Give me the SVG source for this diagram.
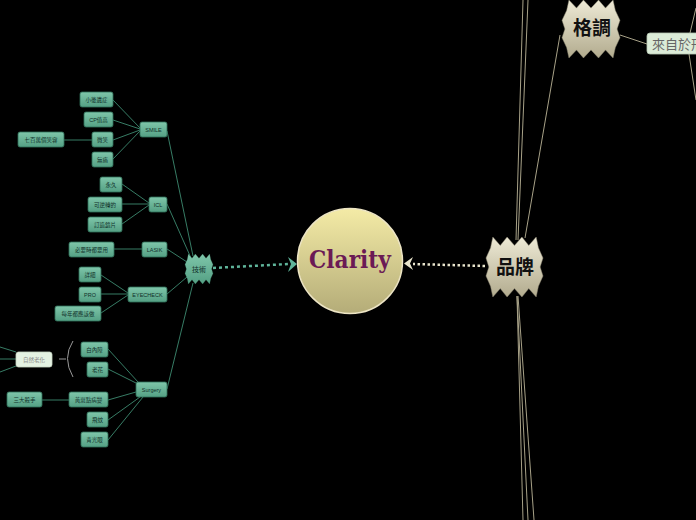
<svg xmlns="http://www.w3.org/2000/svg" width="696" height="520" viewBox="0 0 696 520">
<defs>
<linearGradient id="gt" x1="0" y1="0" x2="0" y2="1"><stop offset="0" stop-color="#7fc6aa"/><stop offset="1" stop-color="#54a084"/></linearGradient>
<linearGradient id="gb" x1="0" y1="0" x2="0" y2="1"><stop offset="0" stop-color="#eeead6"/><stop offset="1" stop-color="#b2ab8e"/></linearGradient>
<linearGradient id="gc" x1="0" y1="0" x2="0" y2="1"><stop offset="0" stop-color="#f4eba6"/><stop offset="1" stop-color="#b4ac78"/></linearGradient>
<path id="burst" d="M8,18 L12,0 L25,14 L37,0 L50,14 L63,0 L75,14 L88,0 L92,18 L100,35 L95,50 L100,65 L92,82 L88,100 L75,86 L63,100 L50,86 L37,100 L25,86 L12,100 L8,82 L0,65 L5,50 L0,35 Z"/>
<style>
.n rect{fill:url(#gt);stroke:#2f6e58;stroke-width:0.8}
.t{font-family:"Liberation Sans","Noto Sans CJK TC",sans-serif;font-size:5.5px;fill:#10302a;text-anchor:middle}
.c line,.c path{stroke:#3d8a70;stroke-width:0.9;fill:none}
.b line{stroke:#a8a288;stroke-width:1;fill:none}
.bt{font-family:"Noto Sans CJK TC","Liberation Sans",sans-serif;font-weight:bold;font-size:19px;fill:#111;text-anchor:middle}
</style>
</defs>
<rect width="696" height="520" fill="#000"/>
<g id="connectors">
<g class="c">
<line x1="140" y1="128" x2="113" y2="100"/>
<line x1="140" y1="129" x2="113" y2="120"/>
<line x1="140" y1="130" x2="113" y2="140"/>
<line x1="140" y1="131" x2="113" y2="159"/>
<line x1="92" y1="140" x2="64" y2="140"/>
<line x1="149" y1="203" x2="122" y2="184"/>
<line x1="149" y1="204" x2="122" y2="204"/>
<line x1="149" y1="205" x2="122" y2="224"/>
<line x1="142" y1="249" x2="114" y2="249"/>
<line x1="128" y1="293" x2="101" y2="275"/>
<line x1="128" y1="294" x2="101" y2="294"/>
<line x1="128" y1="295" x2="101" y2="313"/>
<line x1="138" y1="382" x2="108" y2="349"/>
<line x1="138" y1="384" x2="108" y2="369"/>
<line x1="136" y1="392" x2="108" y2="400"/>
<line x1="140" y1="397" x2="108" y2="420"/>
<line x1="143" y1="397" x2="108" y2="440"/>
<line x1="69" y1="400" x2="42" y2="400"/>
<line x1="167" y1="131" x2="193" y2="256"/>
<line x1="167" y1="204" x2="191" y2="258"/>
<line x1="167" y1="249" x2="187" y2="262"/>
<line x1="167" y1="294" x2="187" y2="277"/>
<line x1="167" y1="389" x2="193" y2="283"/>
<line x1="16" y1="352" x2="0" y2="347"/>
<line x1="16" y1="359" x2="0" y2="359"/>
<line x1="16" y1="366" x2="0" y2="372"/>
</g>
<path d="M73,341 Q62,358 73,377" stroke="#9a9a9a" stroke-width="1" fill="none"/>
<line x1="59" y1="359" x2="66" y2="359" stroke="#9a9a9a" stroke-width="1"/>
<g class="b">
<line x1="516" y1="240" x2="523" y2="0"/>
<line x1="518" y1="240" x2="528" y2="0"/>
<line x1="525" y1="238" x2="560" y2="35"/>
<line x1="517" y1="296" x2="523" y2="520"/>
<line x1="517" y1="296" x2="528" y2="520"/>
<line x1="518" y1="296" x2="534" y2="520"/>
<line x1="620" y1="35" x2="647" y2="44"/>
<line x1="696" y1="8" x2="690" y2="33"/>
<line x1="689" y1="54" x2="696" y2="100"/>
</g>
<line x1="213" y1="268" x2="289" y2="264" stroke="#5fb49a" stroke-width="2.5" stroke-dasharray="3 3"/>
<polygon points="288,257 297,264 288,272 291,264" fill="#5fb49a"/>
<line x1="485" y1="266" x2="413" y2="264" stroke="#e8e4cc" stroke-width="2.5" stroke-dasharray="2.5 2.5"/>
<polygon points="413,257 404,263.5 413,270 410,263.5" fill="#e8e4cc"/>
</g>
<g id="center">
<circle cx="350" cy="261" r="52.5" fill="url(#gc)" stroke="#ece4c4" stroke-width="1.5"/>
<text x="350" y="268" font-family="DejaVu Serif,serif" font-weight="bold" font-size="25" fill="#6b1a55" text-anchor="middle" textLength="82" lengthAdjust="spacingAndGlyphs">Clarity</text>
</g>
<g id="jishu">
<use href="#burst" transform="translate(185,254) scale(0.28,0.30)" fill="url(#gt)" stroke="#2f6e58" stroke-width="0.8" vector-effect="non-scaling-stroke"/>
<text class="t" x="199" y="271.5" style="font-size:7px">技術</text>
</g>
<g id="pinpai">
<use href="#burst" transform="translate(486,237) scale(0.57,0.60)" fill="url(#gb)" stroke="#8a8470" stroke-width="0.8"/>
<text class="bt" x="515" y="274">品牌</text>
</g>
<g id="gediao">
<use href="#burst" transform="translate(562,0) scale(0.58,0.58)" fill="url(#gb)" stroke="#8a8470" stroke-width="0.8"/>
<text class="bt" x="592" y="35">格調</text>
</g>
<g id="laizi">
<rect x="647" y="33" width="60" height="21" rx="3" fill="#dcecd8" stroke="#b8c8b4" stroke-width="0.8"/>
<text x="652" y="49" font-family="Noto Sans CJK TC,sans-serif" font-size="13" fill="#666">來自於形</text>
</g>
<g id="smile" class="n"><rect x="140" y="122" width="27" height="15" rx="2"/><text class="t" x="153.5" y="131.5">SMILE</text></g>
<g id="n1" class="n"><rect x="80" y="92" width="33" height="15" rx="2"/><text class="t" x="96.5" y="101.5">小後遺症</text></g>
<g id="n2" class="n"><rect x="84" y="112" width="29" height="15" rx="2"/><text class="t" x="98.5" y="121.5">CP值高</text></g>
<g id="n3" class="n"><rect x="92" y="132" width="21" height="15" rx="2"/><text class="t" x="102.5" y="141.5">微笑</text></g>
<g id="n4" class="n"><rect x="92" y="152" width="21" height="15" rx="2"/><text class="t" x="102.5" y="161.5">無痛</text></g>
<g id="n5" class="n"><rect x="18" y="132" width="46" height="15" rx="2"/><text class="t" x="41" y="141.5">七百萬個笑容</text></g>
<g id="icl" class="n"><rect x="149" y="197" width="18" height="15" rx="2"/><text class="t" x="158" y="206.5">ICL</text></g>
<g id="n6" class="n"><rect x="100" y="177" width="22" height="15" rx="2"/><text class="t" x="111" y="186.5">永久</text></g>
<g id="n7" class="n"><rect x="88" y="197" width="34" height="15" rx="2"/><text class="t" x="105" y="206.5">可逆轉的</text></g>
<g id="n8" class="n"><rect x="88" y="217" width="34" height="15" rx="2"/><text class="t" x="105" y="226.5">訂造鏡片</text></g>
<g id="lasik" class="n"><rect x="142" y="242" width="25" height="15" rx="2"/><text class="t" x="154.5" y="251.5">LASIK</text></g>
<g id="n9" class="n"><rect x="69" y="242" width="45" height="15" rx="2"/><text class="t" x="91.5" y="251.5">必要時都要用</text></g>
<g id="eyecheck" class="n"><rect x="128" y="287" width="39" height="15" rx="2"/><text class="t" x="147.5" y="296.5">EYECHECK</text></g>
<g id="n10" class="n"><rect x="79" y="267" width="22" height="15" rx="2"/><text class="t" x="90" y="276.5">詳細</text></g>
<g id="n11" class="n"><rect x="79" y="287" width="22" height="15" rx="2"/><text class="t" x="90" y="296.5">PRO</text></g>
<g id="n12" class="n"><rect x="55" y="306" width="46" height="15" rx="2"/><text class="t" x="78" y="315.5">每年都應該做</text></g>
<g id="surgery" class="n"><rect x="136" y="382" width="31" height="15" rx="2"/><text class="t" x="151.5" y="391.5">Surgery</text></g>
<g id="n13" class="n"><rect x="81" y="342" width="27" height="15" rx="2"/><text class="t" x="94.5" y="351.5">白內障</text></g>
<g id="n14" class="n"><rect x="87" y="362" width="21" height="15" rx="2"/><text class="t" x="97.5" y="371.5">老花</text></g>
<g id="n15" class="n"><rect x="69" y="392" width="39" height="15" rx="2"/><text class="t" x="88.5" y="401.5">黃斑點病變</text></g>
<g id="n16" class="n"><rect x="7" y="392" width="35" height="15" rx="2"/><text class="t" x="24.5" y="401.5">三大殺手</text></g>
<g id="n17" class="n"><rect x="87" y="412" width="21" height="15" rx="2"/><text class="t" x="97.5" y="421.5">飛蚊</text></g>
<g id="n18" class="n"><rect x="81" y="432" width="27" height="15" rx="2"/><text class="t" x="94.5" y="441.5">青光眼</text></g>
<g id="ziran"><rect x="16" y="352" width="36" height="15" rx="2.5" fill="#e4f2e2" stroke="#c4d4c2" stroke-width="0.8"/><text class="t" x="34" y="361.5" style="fill:#888">自然老化</text></g>
</svg>
